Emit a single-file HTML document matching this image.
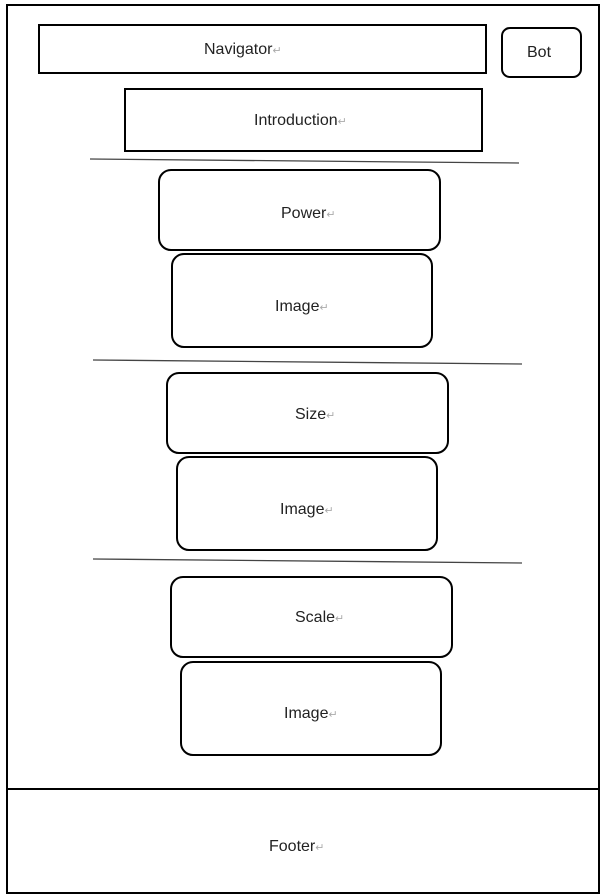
<!DOCTYPE html>
<html><head><meta charset="utf-8"><style>
html,body{margin:0;padding:0;background:#fff;}
svg{display:block;}
text{font-family:"Liberation Sans",sans-serif;font-size:16px;fill:#222;}
.r{fill:#aaa;font-size:11px;}
</style></head><body>
<svg width="616" height="896" viewBox="0 0 616 896" xmlns="http://www.w3.org/2000/svg">
<rect x="0" y="0" width="616" height="896" fill="#fff"/>
<rect x="7" y="5" width="592" height="888" fill="none" stroke="#000" stroke-width="2"/>
<line x1="7" y1="789" x2="599" y2="789" stroke="#000" stroke-width="2"/>
<rect x="39" y="25" width="447" height="48" fill="none" stroke="#000" stroke-width="2"/>
<rect x="502" y="28" width="79" height="49" rx="8" fill="none" stroke="#000" stroke-width="2"/>
<rect x="125" y="89" width="357" height="62" fill="none" stroke="#000" stroke-width="2"/>
<line x1="90" y1="159" x2="519" y2="163" stroke="#444" stroke-width="1.3"/>
<rect x="159" y="170" width="281" height="80" rx="12" fill="none" stroke="#000" stroke-width="2"/>
<rect x="172" y="254" width="260" height="93" rx="12" fill="none" stroke="#000" stroke-width="2"/>
<line x1="93" y1="360" x2="522" y2="364" stroke="#444" stroke-width="1.3"/>
<rect x="167" y="373" width="281" height="80" rx="12" fill="none" stroke="#000" stroke-width="2"/>
<rect x="177" y="457" width="260" height="93" rx="12" fill="none" stroke="#000" stroke-width="2"/>
<line x1="93" y1="559" x2="522" y2="563" stroke="#444" stroke-width="1.3"/>
<rect x="171" y="577" width="281" height="80" rx="12" fill="none" stroke="#000" stroke-width="2"/>
<rect x="181" y="662" width="260" height="93" rx="12" fill="none" stroke="#000" stroke-width="2"/>
<text x="204" y="54">Navigator<tspan class="r">↵</tspan></text>
<text x="527" y="57">Bot</text>
<text x="254" y="125">Introduction<tspan class="r">↵</tspan></text>
<text x="281" y="218">Power<tspan class="r">↵</tspan></text>
<text x="275" y="311">Image<tspan class="r">↵</tspan></text>
<text x="295" y="419">Size<tspan class="r">↵</tspan></text>
<text x="280" y="514">Image<tspan class="r">↵</tspan></text>
<text x="295" y="622">Scale<tspan class="r">↵</tspan></text>
<text x="284" y="718">Image<tspan class="r">↵</tspan></text>
<text x="269" y="851">Footer<tspan class="r">↵</tspan></text>
</svg>
</body></html>
